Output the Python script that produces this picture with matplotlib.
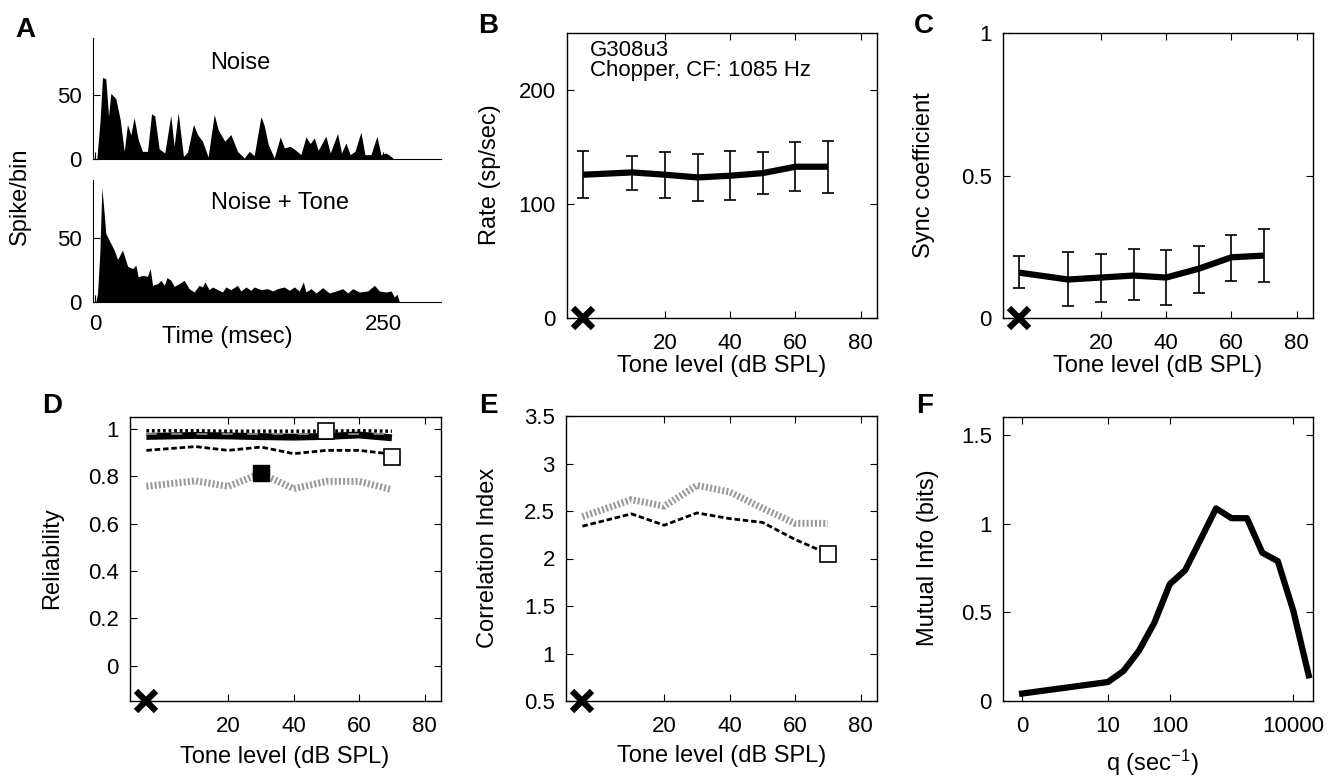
import numpy as np
import matplotlib
matplotlib.use('Agg')
import matplotlib.pyplot as plt

plt.rcParams['font.family'] = ['Liberation Sans', 'DejaVu Sans']
plt.rcParams['mathtext.fontset'] = 'custom'
plt.rcParams['mathtext.rm'] = 'Liberation Sans'
plt.rcParams['mathtext.it'] = 'Liberation Sans'

# ---- data -------------------------------------------------------------
# A: PSTH outlines (time in ms, spikes per bin)
noise_t = [1.3, 4.2, 6.2, 9.1, 11.5, 13.5, 17.8, 21.6, 25.1, 27.9, 30.8, 33.7, 37.2,
           40.9, 45.3, 48.8, 51.6, 55.4, 60.3, 65.5, 68.4, 71.9, 76.5, 80.0, 85.2,
           88.7, 93.0, 97.9, 103.2, 106.6, 109.0, 112.4, 117.6, 123.4, 129.2, 133.6,
           137.9, 143.7, 146.6, 150.1, 155.3, 160.5, 164.0, 169.2, 174.1, 178.4,
           182.8, 186.5, 190.0, 193.4, 200.1, 203.9, 210.2, 213.7, 217.5, 221.2,
           225.3, 230.5, 234.0, 239.2, 244.4, 247.9, 252.2, 257.2, 258.9]
noise_v = [0, 31, 64, 63, 33.7, 51.6, 47.4, 31, 6, 27, 19, 32.4, 15.3,
           6, 6, 35.5, 33.7, 8, 4.7, 34.2, 10, 36.3, 2, 5.3, 27.1,
           19.2, 14, 1.6, 35, 23, 19.2, 14, 19.2, 6, 0.8, 6,
           2.6, 33.2, 26.3, 11.3, 0.8, 17.4, 8.7, 10, 6.8, 3.4,
           17.4, 12.1, 16.6, 6.8, 17.9, 4.7, 20, 4.7, 12.6, 3.4,
           6, 21, 3.4, 3.4, 17.9, 3.4, 4.7, 1.6, 0]

tone_t = [0.4, 1.9, 3.9, 5.7, 7.7, 9.1, 12.0, 16.4, 19.3, 23.6, 28.0, 32.3, 35.2,
          37.2, 41.0, 45.3, 47.6, 49.7, 54.1, 57.0, 59.9, 62.2, 65.6, 68.4, 72.8,
          77.1, 81.4, 85.8, 90.1, 93.0, 95.1, 98.8, 101.7, 106.1, 110.4, 113.3,
          117.6, 123.4, 126.3, 130.7, 135.0, 137.9, 143.7, 149.5, 153.8, 158.2,
          164.0, 168.3, 172.7, 177.0, 180.5, 182.8, 187.2, 191.5, 197.3, 203.1,
          208.9, 214.7, 219.0, 223.4, 229.2, 236.4, 242.2, 246.5, 252.3, 256.6,
          259.5, 261.8, 263.9]
tone_v = [0, 6.5, 37.8, 89, 69, 53.4, 48.2, 40.4, 33.1, 40.4, 27.9, 26, 28.6,
          19.5, 20.8, 20, 26, 13, 14.3, 16.9, 13, 19, 16.9, 12.2, 14.3,
          16.9, 10.4, 7.8, 13, 11.7, 15.6, 9.6, 11.7, 9.6, 7.8, 11.7,
          9.6, 13, 8.6, 11.7, 9.1, 11.7, 9.6, 10.4, 8.6, 10.4,
          11.7, 9.1, 11.7, 8.6, 15.6, 7.8, 10.4, 7, 11.2, 7,
          8.6, 10.4, 7, 10.4, 7.8, 8.6, 13, 8.6, 7.8, 8.6,
          3.9, 6, 0]

# tone levels (dB SPL); the no-tone condition sits at -5
levels = [-5, 10, 20, 30, 40, 50, 60, 70]

# B: rate
rate = [125.7, 127.7, 125.7, 123.3, 124.8, 127.1, 132.7, 132.7]
rate_hi = [146.6, 142.0, 145.8, 143.7, 146.6, 145.2, 154.8, 155.4]
rate_lo = [105.2, 112.5, 105.2, 102.9, 103.5, 108.7, 111.0, 109.6]

# C: sync coefficient
sync = [0.159, 0.135, 0.142, 0.149, 0.142, 0.173, 0.213, 0.219]
sync_hi = [0.216, 0.233, 0.226, 0.241, 0.238, 0.254, 0.291, 0.314]
sync_lo = [0.106, 0.042, 0.056, 0.063, 0.047, 0.088, 0.131, 0.127]

# D: reliability
rel_dotted = [0.992, 0.992, 0.990, 0.990, 0.990, 0.990, 0.992, 0.990]
rel_solid = [0.968, 0.972, 0.970, 0.967, 0.965, 0.968, 0.974, 0.962]
rel_thin = [0.980, 0.980, 0.980, 0.980, 0.980, 0.980, 0.980, 0.980]
rel_dashed = [0.909, 0.925, 0.909, 0.923, 0.895, 0.909, 0.909, 0.893]
rel_gray = [0.757, 0.780, 0.757, 0.812, 0.747, 0.778, 0.778, 0.743]

# E: correlation index
ci_gray = [2.44, 2.62, 2.55, 2.77, 2.70, 2.53, 2.37, 2.37]
ci_dashed = [2.34, 2.47, 2.35, 2.48, 2.42, 2.38, 2.20, 2.05]

# F: mutual information vs cost q
q_vals = [0, 10, 17.8, 31.6, 56.2, 100, 178, 316, 562, 1000, 1780, 3160, 5620, 10000, 17800]
mi_bits = [0.042, 0.107, 0.169, 0.282, 0.44, 0.658, 0.737, 0.91, 1.085, 1.03, 1.03,
           0.835, 0.788, 0.51, 0.145]

# ---- layout -----------------------------------------------------------
W, H = 1330, 780
TICK_FS = 16
LABEL_FS = 17
fig = plt.figure(figsize=(W / 100, H / 100), dpi=100)


def rect(l, r, t, b):
    return [l / W, 1 - b / H, (r - l) / W, (b - t) / H]


def ftext(x, y, s, **kw):
    kw.setdefault('ha', 'center')
    kw.setdefault('va', 'center')
    kw.setdefault('fontsize', LABEL_FS)
    fig.text(x / W, 1 - y / H, s, **kw)


def matlab_box(ax):
    ax.tick_params(direction='in', top=True, right=True, length=5,
                   labelsize=TICK_FS, width=0.8)
    ax.tick_params(axis='x', pad=11)
    ax.tick_params(axis='y', pad=8)
    for s in ax.spines.values():
        s.set_linewidth(1.0)


def no_tone_x(ax, y):
    ax.plot([-5], [y], 'x', color='black', markersize=14, mew=4.5,
            clip_on=False, zorder=10)


# A
axA1 = fig.add_axes(rect(93, 441, 38, 159))
axA2 = fig.add_axes(rect(93, 441, 180, 302))
for ax, t, v in [(axA1, noise_t, noise_v), (axA2, tone_t, tone_v)]:
    ax.fill_between(t, v, 0, color='black', linewidth=0)
    ax.set_xlim(-2, 300)
    ax.set_ylim(0, 95)
    ax.spines['top'].set_visible(False)
    ax.spines['right'].set_visible(False)
    ax.set_yticks([0, 50])
    ax.set_xticks([0, 250])
    ax.tick_params(direction='in', length=5, labelsize=TICK_FS, pad=8)
axA1.set_xticklabels([])
axA2.tick_params(axis='x', pad=9)
ftext(240, 63, 'Noise')
ftext(280, 203, 'Noise + Tone')
ftext(227, 337, 'Time (msec)')
ftext(20, 196, 'Spike/bin', rotation=90)

# B
axB = fig.add_axes(rect(567, 877, 33, 318))
axB.plot(levels, rate, color='black', lw=4.5, solid_capstyle='butt')
axB.errorbar(levels, rate,
             yerr=[np.subtract(rate, rate_lo), np.subtract(rate_hi, rate)],
             fmt='none', ecolor='black', elinewidth=1.2, capsize=4, capthick=1.2)
no_tone_x(axB, 0)
axB.set_xlim(-10, 85)
axB.set_ylim(0, 250)
axB.set_xticks([20, 40, 60, 80])
axB.set_yticks([0, 100, 200])
matlab_box(axB)
axB.text(0.075, 0.975, 'G308u3\nChopper, CF: 1085 Hz', transform=axB.transAxes,
         ha='left', va='top', fontsize=16, linespacing=0.95)
ftext(490, 175, 'Rate (sp/sec)', rotation=90)
ftext(722, 366, 'Tone level (dB SPL)')

# C
axC = fig.add_axes(rect(1003, 1313, 33, 318))
axC.plot(levels, sync, color='black', lw=4.5, solid_capstyle='butt')
axC.errorbar(levels, sync,
             yerr=[np.subtract(sync, sync_lo), np.subtract(sync_hi, sync)],
             fmt='none', ecolor='black', elinewidth=1.2, capsize=4, capthick=1.2)
no_tone_x(axC, 0)
axC.set_xlim(-10, 85)
axC.set_ylim(0, 1)
axC.set_xticks([20, 40, 60, 80])
axC.set_yticks([0, 0.5, 1])
axC.set_yticklabels(['0', '0.5', '1'])
matlab_box(axC)
ftext(924, 175, 'Sync coefficient', rotation=90)
ftext(1158, 366, 'Tone level (dB SPL)')

# D
axD = fig.add_axes(rect(130, 441, 417, 701))
axD.plot(levels, rel_gray, color='#9a9a9a', lw=5, linestyle=(0, (0.3, 0.3)))
axD.plot(levels, rel_dashed, color='black', lw=2, linestyle=(0, (2, 1)))
axD.plot(levels, rel_solid, color='black', lw=5, solid_capstyle='butt')
axD.plot(levels, rel_thin, color='#8a8a8a', lw=1.3, linestyle=(0, (6, 8)))
axD.plot(levels, rel_dotted, color='black', lw=2.5, linestyle=(0, (0.8, 0.8)))
axD.plot([50], [rel_dotted[5]], 's', mfc='white', mec='black', ms=11, mew=1.2)
axD.plot([70], [0.88], 's', mfc='white', mec='black', ms=11, mew=1.2)
axD.plot([30], [rel_gray[3]], 's', mfc='black', mec='black', ms=12)
no_tone_x(axD, -0.15)
axD.set_xlim(-10, 85)
axD.set_ylim(-0.15, 1.05)
axD.set_xticks([20, 40, 60, 80])
axD.set_yticks([0, 0.2, 0.4, 0.6, 0.8, 1])
axD.set_yticklabels(['0', '0.2', '0.4', '0.6', '0.8', '1'])
matlab_box(axD)
ftext(52, 558, 'Reliability', rotation=90)
ftext(285, 757, 'Tone level (dB SPL)')

# E
axE = fig.add_axes(rect(566, 877, 416, 701))
axE.plot(levels, ci_gray, color='#9a9a9a', lw=5, linestyle=(0, (0.3, 0.3)))
axE.plot(levels, ci_dashed, color='black', lw=2, linestyle=(0, (2, 1)))
axE.plot([70], [ci_dashed[-1]], 's', mfc='white', mec='black', ms=11, mew=1.2)
no_tone_x(axE, 0.5)
axE.set_xlim(-10, 85)
axE.set_ylim(0.5, 3.5)
axE.set_xticks([20, 40, 60, 80])
axE.set_yticks([0.5, 1, 1.5, 2, 2.5, 3, 3.5])
axE.set_yticklabels(['0.5', '1', '1.5', '2', '2.5', '3', '3.5'])
matlab_box(axE)
ftext(488, 558, 'Correlation Index', rotation=90)
ftext(722, 756, 'Tone level (dB SPL)')

# F: log axis, q = 0 drawn left of the first decade
Q0_POS = -0.39
q_pos = [np.log10(q) if q > 0 else Q0_POS for q in q_vals]
axF = fig.add_axes(rect(1003, 1313, 417, 701))
axF.plot(q_pos, mi_bits, color='black', lw=4.5)
axF.set_xlim(-0.7, 4.32)
axF.set_ylim(0, 1.6)
axF.set_xticks([Q0_POS, 1, 2, 4])
axF.set_xticklabels(['0', '10', '100', '10000'])
axF.set_yticks([0, 0.5, 1, 1.5])
axF.set_yticklabels(['0', '0.5', '1', '1.5'])
matlab_box(axF)
ftext(928, 558, 'Mutual Info (bits)', rotation=90)
ftext(1152, 763, 'q (sec$^{-1}$)')

# panel letters
for x, y, s in [(25, 30, 'A'), (488, 26, 'B'), (924, 26, 'C'),
                (52, 406, 'D'), (488, 406, 'E'), (925, 406, 'F')]:
    ftext(x, y, s, fontsize=20, fontweight='bold')

fig.savefig('out.png', dpi=100)
